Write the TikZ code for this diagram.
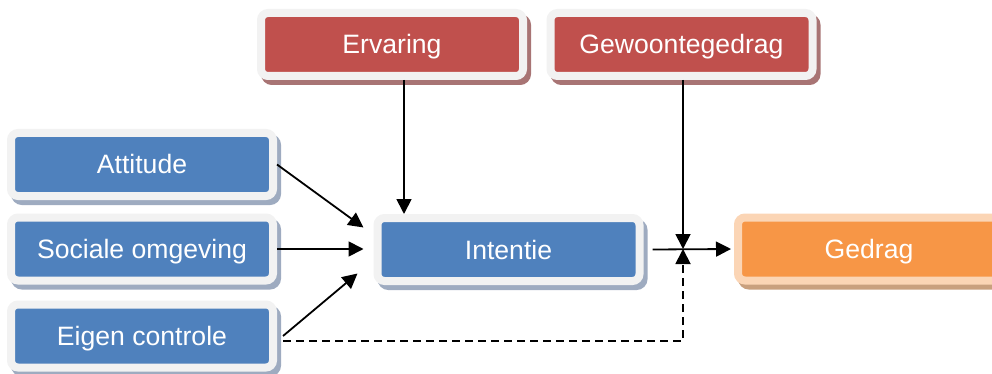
\documentclass[tikz,border=0pt]{standalone}
\usepackage{fontspec}
\setmainfont{Liberation Sans}
\usetikzlibrary{arrows.meta}
\definecolor{bluebox}{HTML}{4F81BD}
\definecolor{redbox}{HTML}{C0504D}
\definecolor{orangebox}{HTML}{F79646}
\definecolor{bordgray}{HTML}{F2F2F2}
\definecolor{bordpeach}{HTML}{FBD5B5}
\definecolor{blueshadow}{HTML}{9EABC0}
\definecolor{redshadow}{HTML}{A87474}
\definecolor{orangeshadow}{HTML}{C9A07E}
\begin{document}
\begin{tikzpicture}[x=1pt,y=-1pt,
  shadowpre/.style={draw=#1, fill=#1, line width=8pt, transform canvas={shift={(4pt,-5pt)}}},
  box/.style={line width=8pt, rounded corners=7pt, minimum width=262pt, minimum height=63pt,
    inner sep=0pt, text=white, font=\fontsize{26.6}{30}\selectfont, text height=19pt, text depth=0pt},
  bbox/.style={box, draw=bordgray, fill=bluebox, preaction={shadowpre=blueshadow}},
  rbox/.style={box, draw=bordgray, fill=redbox, preaction={shadowpre=redshadow}},
  obox/.style={box, draw=bordpeach, fill=orangebox, preaction={shadowpre=orangeshadow}},
  arr/.style={-{Triangle[length=15pt,width=15pt]}, line width=1.8pt},
  darr/.style={arr, dash pattern=on 8pt off 5pt}]
\useasboundingbox (0,0) rectangle (992,374);
\clip (0,0) rectangle (992,374);
\node[rbox] (erv) at (392,44.5) {Ervaring};
\node[rbox] (gew) at (681.5,44.5) {Gewoontegedrag};
\node[bbox] (att) at (142,164.5) {Attitude};
\node[bbox] (soc) at (142,249) {Sociale omgeving};
\node[bbox] (ec) at (142,336) {Eigen controle};
\node[bbox] (int) at (508.5,249.5) {Intentie};
\node[obox] (ged) at (869,249) {Gedrag};
\coordinate (j) at (683,249);
\draw[arr] (att.east) -- ([shift={(-10pt,22pt)}]int.west);
\draw[arr] (soc.east) -- ([xshift=-10pt]soc.east -| int.west);
\draw[arr] ([xshift=6pt]ec.east) -- ([shift={(-16pt,-24pt)}]int.west);
\draw[arr] ([xshift=12pt]erv.south) -- ([xshift=12pt]erv.south |- int.north);
\draw[arr] ([xshift=9pt]int.east) -- ([xshift=-3pt]ged.west);
\draw[arr] (gew.south -| j) -- (j);
\draw[darr] ([shift={(6pt,-5pt)}]ec.east) -| (j);
\end{tikzpicture}
\end{document}
